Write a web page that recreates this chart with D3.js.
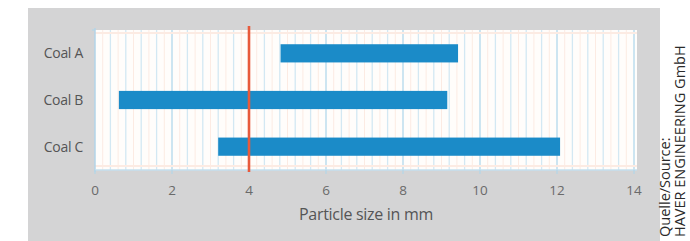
<!DOCTYPE html>
<html><head><meta charset="utf-8">
<script src="https://cdn.jsdelivr.net/npm/d3@7"></script>
<style>body{margin:0;background:#fff}svg{display:block}</style>
</head><body>
<svg id="c" width="690" height="241"></svg>
<script>
const categories = ["Coal A", "Coal B", "Coal C"];
const startValues = [4.82, 0.62, 3.2];
const endValues = [9.43, 9.15, 12.08];
const markerValue = 4;
const xTicks = [0, 2, 4, 6, 8, 10, 12, 14];
const xTitle = "Particle size in mm";
const sourceLines = ["Quelle/Source:", "HAVER ENGINEERING GmbH"];

const svg = d3.select("#c");
const font = "'Open Sans', 'Noto Sans', sans-serif";
const L = 95, R = 634, T = 30, B = 170;

svg.append("rect").attr("x", 28).attr("y", 8).attr("width", 632).attr("height", 240).attr("fill", "#d4d4d5");
svg.append("rect").attr("x", L).attr("y", T).attr("width", 637 - L).attr("height", B - T).attr("fill", "#fffdfb");

const x = d3.scaleLinear().domain([0, 14]).range([L, R]);
const y = d3.scaleBand().domain(categories).range([T, B]).paddingInner(0.61).paddingOuter(0.305);

// minor orange grid every 0.4 offset 0.2
const g = svg.append("g");
g.selectAll(".mo").data(d3.range(0.2, 14.01, 0.4)).join("line")
  .attr("x1", d => x(d)).attr("x2", d => x(d)).attr("y1", T).attr("y2", B)
  .attr("stroke", "#fcebe3").attr("stroke-width", 1);
// blue grid every 0.4
g.selectAll(".bl").data(d3.range(0.4, 14.01, 0.4).filter(d => Math.abs(d / 2 - Math.round(d / 2)) > 1e-6)).join("line")
  .attr("x1", d => x(d)).attr("x2", d => x(d)).attr("y1", T).attr("y2", B)
  .attr("stroke", "#d3e8f3").attr("stroke-width", 1.3);
g.selectAll(".mj").data(xTicks.slice(1)).join("line")
  .attr("x1", d => x(d)).attr("x2", d => x(d)).attr("y1", T).attr("y2", B)
  .attr("stroke", "#bcdcee").attr("stroke-width", 1.5);
// faint horizontal lines
g.selectAll(".h").data([T + 3, B - 4]).join("line")
  .attr("x1", L).attr("x2", 637).attr("y1", d => d).attr("y2", d => d)
  .attr("stroke", "#fcebe3").attr("stroke-width", 2);

// bars
svg.selectAll(".bar").data(categories).join("rect")
  .attr("x", (d, i) => x(startValues[i]))
  .attr("width", (d, i) => x(endValues[i]) - x(startValues[i]))
  .attr("y", d => y(d)).attr("height", y.bandwidth())
  .attr("fill", "#1b8bc8");

// axes lines
svg.append("line").attr("x1", L).attr("x2", L).attr("y1", T - 2).attr("y2", B + 2).attr("stroke", "#b3d5e8").attr("stroke-width", 1.5);
svg.append("line").attr("x1", L - 3).attr("x2", L).attr("y1", T).attr("y2", T).attr("stroke", "#b3d5e8").attr("stroke-width", 1.2);
svg.append("line").attr("x1", L).attr("x2", 637).attr("y1", B).attr("y2", B).attr("stroke", "#c4dfee").attr("stroke-width", 1.5);
svg.selectAll(".tk").data(xTicks).join("line")
  .attr("x1", d => x(d)).attr("x2", d => x(d)).attr("y1", B).attr("y2", B + 4)
  .attr("stroke", "#b3d5e8").attr("stroke-width", 1.2);

// red marker line
svg.append("line").attr("x1", x(markerValue)).attr("x2", x(markerValue)).attr("y1", T - 4).attr("y2", B + 2)
  .attr("stroke", "#e85a3c").attr("stroke-width", 2.6);

// x tick labels
svg.selectAll(".tl").data(xTicks).join("text")
  .attr("x", d => x(d)).attr("y", 195).attr("text-anchor", "middle")
  .attr("font-family", font).attr("font-size", 13.5).attr("fill", "#6a6a6a").text(d => d);

// y labels
svg.selectAll(".yl").data(categories).join("text")
  .attr("x", 83).attr("y", d => y(d) + y.bandwidth() / 2 + 5).attr("text-anchor", "end")
  .attr("font-family", font).attr("font-size", 14).attr("letter-spacing", -0.3).attr("fill", "#555").text(d => d);

// x title
svg.append("text").attr("x", 366).attr("y", 220).attr("text-anchor", "middle")
  .attr("font-family", font).attr("font-size", 16).attr("letter-spacing", -0.3).attr("fill", "#555").text(xTitle);

// source
sourceLines.forEach((s, i) => {
  svg.append("text").attr("transform", `translate(${670 + i * 15},237) rotate(-90)`)
    .attr("font-family", font).attr("font-size", 14.5).attr("fill", "#2a2a2a").text(s);
});
</script>
</body></html>
